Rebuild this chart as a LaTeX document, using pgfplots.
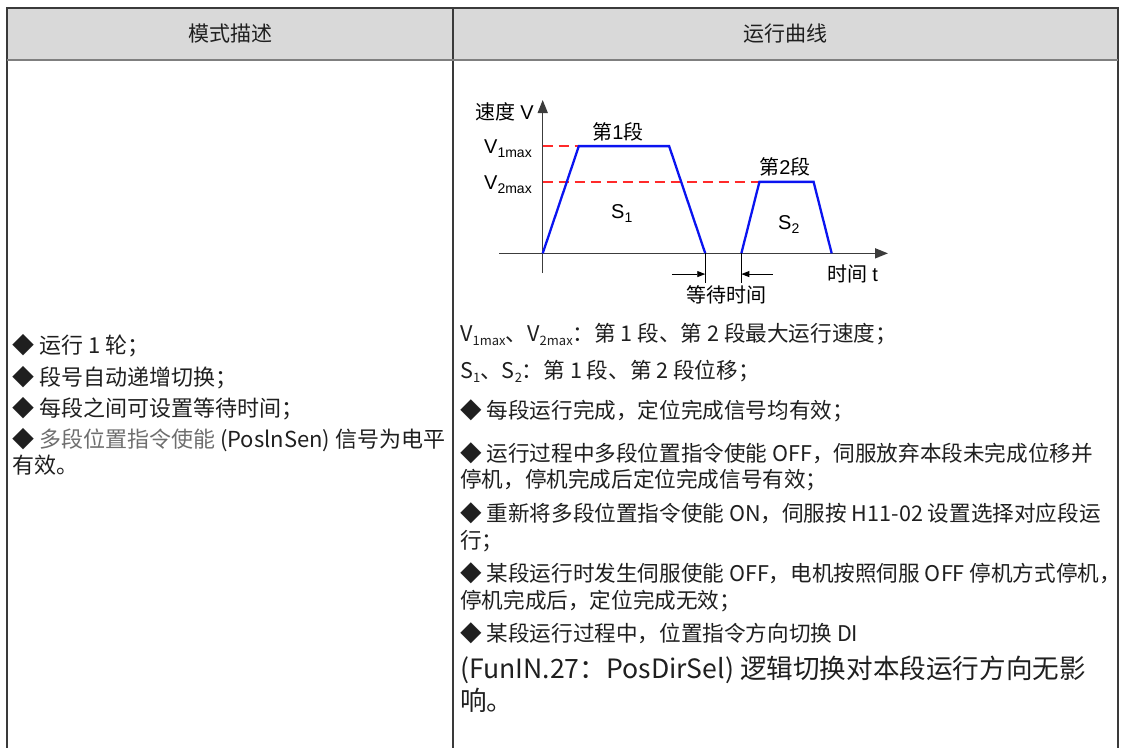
\documentclass[border=0pt]{standalone}
\usepackage{fontspec}
\setmainfont{Noto Sans CJK SC}
\newfontfamily\arial{Liberation Sans}
\usepackage{pgfplots}
\pgfplotsset{compat=1.18}
\usetikzlibrary{arrows.meta}
\definecolor{border}{HTML}{3A3A3A}
\definecolor{hdr}{HTML}{D9D9D9}
\definecolor{hline}{HTML}{7F7F7F}
\definecolor{txt}{HTML}{1F1F1F}
\definecolor{gtxt}{HTML}{6E6E6E}
\definecolor{ax}{HTML}{3C3C3C}
\definecolor{blu}{HTML}{0A14F0}
\definecolor{rd}{HTML}{FF2A2A}
\newcommand\sub[1]{\raisebox{-0.35ex}{\fontsize{13bp}{13bp}\selectfont #1}}
\newcommand\csub[1]{\raisebox{-0.4ex}{\fontsize{14bp}{14bp}\selectfont #1}}
\begin{document}
\begin{tikzpicture}
\begin{scope}[x=1bp,y=-1bp,
  tl/.style={anchor=west, inner sep=0pt, text height=19bp, text depth=2.6bp, font=\fontsize{21.6bp}{24bp}\selectfont, text=txt},
  ll/.style={anchor=west, inner sep=0pt, text height=19.4bp, text depth=2.6bp, font=\fontsize{22bp}{24bp}\selectfont, text=txt},
  bl/.style={anchor=west, inner sep=0pt, text height=23.4bp, text depth=3.2bp, font=\fontsize{26.6bp}{30bp}\selectfont, text=txt},
  cl/.style={inner sep=0pt, font=\fontsize{20bp}{22bp}\selectfont, text=black}]
\useasboundingbox (0,0) rectangle (1121,748);
% table
\fill[hdr] (7,8) rectangle (1118,60);
\draw[border, line width=1.3bp] (7,760) -- (7,8) -- (1118,8) -- (1118,760);
\draw[border, line width=1.1bp] (453,8) -- (453,760);
\draw[hline, line width=2bp] (7,60) -- (1118,60);
\node[cl, font=\fontsize{21bp}{24bp}\selectfont, text=txt] at (230,34) {模式描述};
\node[cl, font=\fontsize{21bp}{24bp}\selectfont, text=txt] at (785,34) {运行曲线};
% left column
\node[ll] at (12,345) {◆ 运行 1 轮；};
\node[ll] at (12,377) {◆ 段号自动递增切换；};
\node[ll] at (12,408) {◆ 每段之间可设置等待时间；};
\node[ll] at (12,439) {◆ {\color{gtxt}多段位置指令使能} (PoslnSen) 信号为电平};
\node[ll] at (12,465) {有效。};
% right column text
\node[tl] at (460,333) {V\sub{1max}、V\sub{2max}：第 1 段、第 2 段最大运行速度；};
\node[tl] at (460,370) {S\sub{1}、S\sub{2}：第 1 段、第 2 段位移；};
\node[tl] at (460,410) {◆ 每段运行完成，定位完成信号均有效；};
\node[tl] at (460,453) {◆ 运行过程中多段位置指令使能 OFF，伺服放弃本段未完成位移并};
\node[tl] at (460,479) {停机，停机完成后定位完成信号有效；};
\node[tl] at (460,513) {◆ 重新将多段位置指令使能 ON，伺服按 H11-02 设置选择对应段运};
\node[tl] at (460,540) {行；};
\node[tl] at (460,573) {◆ 某段运行时发生伺服使能 OFF，电机按照伺服 OFF 停机方式停机，};
\node[tl] at (460,600) {停机完成后，定位完成无效；};
\node[tl] at (460,633) {◆ 某段运行过程中，位置指令方向切换 DI};
\node[bl] at (460,668) {(FunIN.27：PosDirSel) 逻辑切换对本段运行方向无影};
\node[bl] at (460,700) {响。};
% chart labels
\node[cl, anchor=east] at (534,112) {速度 {\arial V}};
\node[cl, anchor=base west] at (484,153) {\arial V\csub{1max}};
\node[cl, anchor=base west] at (484,189) {\arial V\csub{2max}};
\node[cl] at (618,132) {第{\arial 1}段};
\node[cl] at (785,167) {第{\arial 2}段};
\node[cl, anchor=base west] at (611,218) {\arial S\csub{1}};
\node[cl, anchor=base west] at (778,229) {\arial S\csub{2}};
\node[cl] at (853,274) {时间 {\arial t}};
\node[cl] at (726,295) {等待时间};
\end{scope}
% chart
\begin{axis}[at={(499bp,-273bp)}, anchor=south west,
  width=389bp, height=173bp, scale only axis,
  xmin=-4.84, xmax=38.24, ymin=-0.55, ymax=4.29,
  axis lines=middle, xtick=\empty, ytick=\empty,
  axis line style={ax, line width=1.5bp},
  x axis line style={-{Triangle[length=13bp,width=10bp]}},
  y axis line style={-{Triangle[length=13bp,width=10bp]}},
  clip=false]
\addplot[rd, line width=1.3bp, dash pattern=on 10bp off 6bp] coordinates {(0,3) (4,3)};
\addplot[rd, line width=1.3bp, dash pattern=on 10bp off 6bp] coordinates {(0,2) (24,2)};
\addplot[blu, line width=2.3bp] coordinates {(0,0) (4,3) (14,3) (18,0)};
\addplot[blu, line width=2.3bp] coordinates {(22,0) (24,2) (30,2) (32,0)};
\draw[black, line width=0.9bp] (axis cs:18,0) -- (axis cs:18,-0.83);
\draw[black, line width=0.9bp] (axis cs:22,0) -- (axis cs:22,-0.83);
\draw[black, line width=0.9bp, -{Triangle[length=8bp,width=6bp]}] (axis cs:14.3,-0.58) -- (axis cs:18,-0.58);
\draw[black, line width=0.9bp, -{Triangle[length=8bp,width=6bp]}] (axis cs:25.5,-0.58) -- (axis cs:22,-0.58);
\end{axis}
\end{tikzpicture}
\end{document}
